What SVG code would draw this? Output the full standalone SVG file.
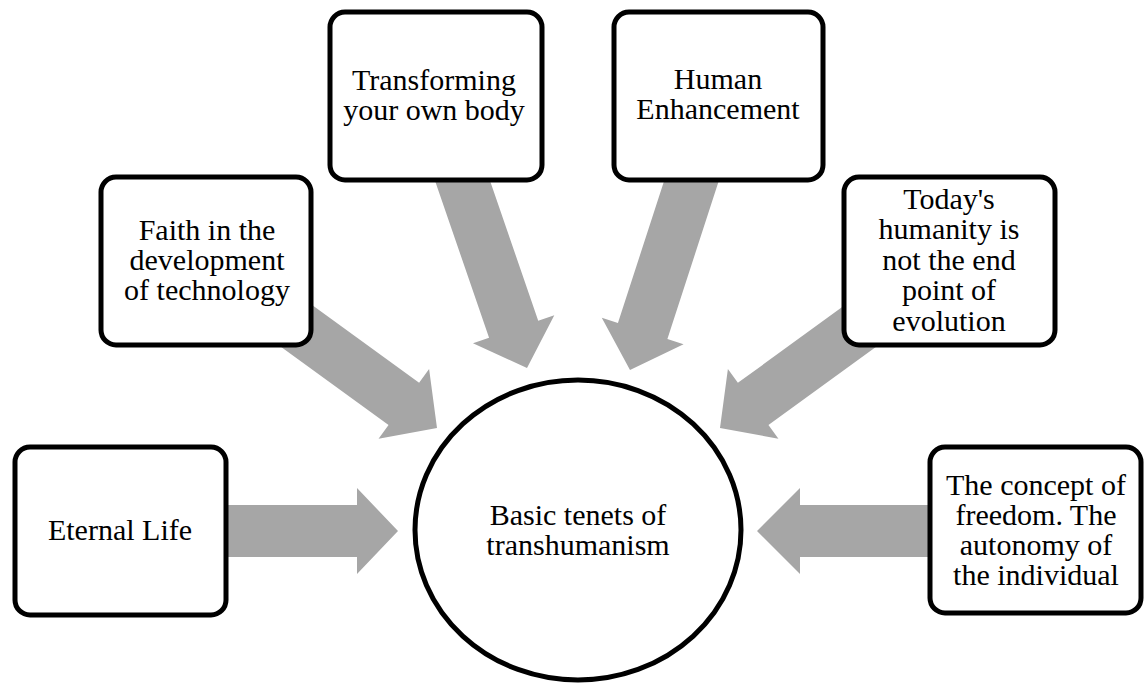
<svg xmlns="http://www.w3.org/2000/svg" width="1144" height="684" viewBox="0 0 1144 684">
<style>
.arrow{fill:#a6a6a6;stroke:none}
.box{fill:#ffffff;stroke:#000000;stroke-width:5}
.lbl{font-family:"Liberation Serif","DejaVu Serif",serif;font-size:30px;fill:#000000;text-anchor:middle}
</style>
<rect x="0" y="0" width="1144" height="684" fill="#ffffff"/>
<g id="connectors">
<polygon class="arrow" points="220,505 357,505 357,488 398,531 357,574 357,557 220,557"/>
<polygon class="arrow" points="935,505 800,505 800,488 757,531 800,574 800,557 935,557"/>
<polygon class="arrow" points="0,-26 154,-26 154,-43 195,0 154,43 154,26 0,26" transform="translate(437,428) rotate(36) translate(-195,0)"/>
<polygon class="arrow" points="0,-26 179,-26 179,-43 220,0 179,43 179,26 0,26" transform="translate(527,368) rotate(71) translate(-220,0)"/>
<polygon class="arrow" points="0,-26 179,-26 179,-43 220,0 179,43 179,26 0,26" transform="translate(630,370) rotate(108) translate(-220,0)"/>
<polygon class="arrow" points="0,-26 154,-26 154,-43 195,0 154,43 154,26 0,26" transform="translate(720,428) rotate(144) translate(-195,0)"/>
</g>
<g id="center">
<ellipse class="box" cx="578" cy="530" rx="163" ry="150"/>
<text class="lbl" x="578" y="525">Basic tenets of</text>
<text class="lbl" x="578" y="555">transhumanism</text>
</g>
<g id="eternal-life">
<rect class="box" x="15" y="447" width="211" height="168" rx="15"/>
<text class="lbl" x="120" y="540">Eternal Life</text>
</g>
<g id="faith">
<rect class="box" x="101" y="177" width="210" height="168" rx="15"/>
<text class="lbl" x="207" y="240">Faith in the</text>
<text class="lbl" x="207" y="270">development</text>
<text class="lbl" x="207" y="300">of technology</text>
</g>
<g id="transforming">
<rect class="box" x="330" y="12" width="212" height="168" rx="15"/>
<text class="lbl" x="434" y="90">Transforming</text>
<text class="lbl" x="434" y="120">your own body</text>
</g>
<g id="enhancement">
<rect class="box" x="614" y="12" width="209" height="168" rx="15"/>
<text class="lbl" x="718" y="89">Human</text>
<text class="lbl" x="718" y="119">Enhancement</text>
</g>
<g id="todays-humanity">
<rect class="box" x="844" y="177" width="211" height="168" rx="15"/>
<text class="lbl" x="949" y="209">Today's</text>
<text class="lbl" x="949" y="239">humanity is</text>
<text class="lbl" x="949" y="270">not the end</text>
<text class="lbl" x="949" y="300">point of</text>
<text class="lbl" x="949" y="331">evolution</text>
</g>
<g id="freedom">
<rect class="box" x="930" y="447" width="211" height="166" rx="15"/>
<text class="lbl" x="1036" y="495">The concept of</text>
<text class="lbl" x="1036" y="525">freedom. The</text>
<text class="lbl" x="1036" y="555">autonomy of</text>
<text class="lbl" x="1036" y="585">the individual</text>
</g>
</svg>
